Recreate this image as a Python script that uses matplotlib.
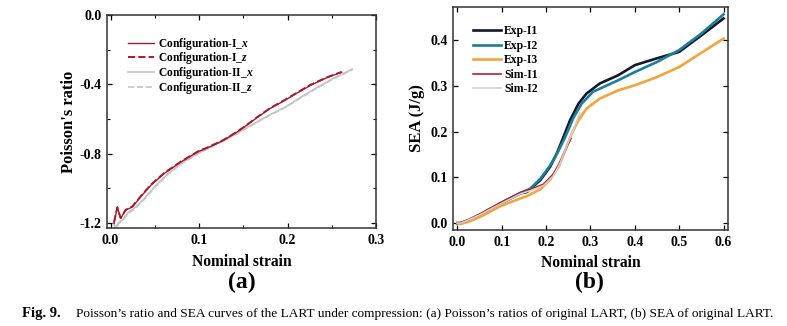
import matplotlib.pyplot as plt
from matplotlib.ticker import MultipleLocator

plt.rcParams['font.family'] = ['Liberation Serif', 'DejaVu Serif']
plt.rcParams['mathtext.fontset'] = 'custom'
plt.rcParams['mathtext.it'] = 'Liberation Serif:italic:bold'

# (a) Poisson's ratio vs nominal strain
strain_I = [0.0038, 0.0076, 0.0114, 0.017, 0.0246, 0.034, 0.0455, 0.0606, 0.0795, 0.0985,
            0.112, 0.128, 0.143, 0.155, 0.166, 0.18, 0.196, 0.21, 0.226, 0.245, 0.261]
nu_Ix = [-1.204, -1.108, -1.175, -1.127, -1.108, -1.05, -0.983, -0.915, -0.848, -0.79,
         -0.761, -0.722, -0.675, -0.632, -0.59, -0.54, -0.495, -0.452, -0.405, -0.36, -0.33]
nu_Iz = [-1.198, -1.112, -1.172, -1.125, -1.105, -1.047, -0.98, -0.912, -0.846, -0.788,
         -0.759, -0.72, -0.673, -0.63, -0.588, -0.538, -0.492, -0.45, -0.402, -0.358, -0.328]
strain_II = [0.0038, 0.0057, 0.009, 0.014, 0.02, 0.028, 0.038, 0.05, 0.064, 0.08, 0.1,
             0.12, 0.143, 0.166, 0.18, 0.196, 0.21, 0.226, 0.25, 0.273]
nu_IIx = [-1.2, -1.233, -1.2, -1.18, -1.14, -1.11, -1.06, -0.99, -0.92, -0.855, -0.795,
          -0.745, -0.682, -0.615, -0.575, -0.535, -0.49, -0.44, -0.37, -0.312]
nu_IIz = [-1.21, -1.238, -1.205, -1.185, -1.145, -1.115, -1.065, -0.995, -0.924, -0.858, -0.797,
          -0.747, -0.685, -0.618, -0.578, -0.538, -0.493, -0.443, -0.372, -0.315]

# (b) SEA vs nominal strain
strain_exp1 = [0.0, 0.007, 0.025, 0.052, 0.097, 0.142, 0.157, 0.187, 0.209, 0.224, 0.239,
               0.254, 0.273, 0.291, 0.321, 0.3625, 0.4, 0.45, 0.5, 0.55, 0.6]
sea_exp1 = [0.0, 0.0, 0.006, 0.018, 0.043, 0.065, 0.068, 0.094, 0.123, 0.152, 0.188,
            0.225, 0.261, 0.283, 0.305, 0.323, 0.345, 0.36, 0.374, 0.41, 0.447]
strain_exp2 = [0.0, 0.007, 0.025, 0.052, 0.097, 0.142, 0.164, 0.187, 0.209, 0.228, 0.243,
               0.261, 0.28, 0.306, 0.3625, 0.4, 0.45, 0.5, 0.55, 0.6]
sea_exp2 = [0.0, 0.0, 0.006, 0.018, 0.043, 0.066, 0.075, 0.097, 0.126, 0.158, 0.188,
            0.229, 0.261, 0.287, 0.312, 0.33, 0.352, 0.378, 0.414, 0.456]
strain_exp3 = [0.0, 0.007, 0.025, 0.052, 0.097, 0.142, 0.157, 0.187, 0.209, 0.228, 0.243,
               0.258, 0.273, 0.291, 0.321, 0.3625, 0.4, 0.45, 0.5, 0.55, 0.6]
sea_exp3 = [0.0, -0.002, 0.003, 0.014, 0.037, 0.054, 0.059, 0.074, 0.095, 0.123, 0.159,
            0.196, 0.225, 0.25, 0.272, 0.29, 0.301, 0.319, 0.341, 0.372, 0.403]
strain_sim1 = [0.0, 0.007, 0.025, 0.052, 0.097, 0.142, 0.165, 0.194, 0.216, 0.231, 0.245, 0.256]
sea_sim1 = [0.0, 0.001, 0.008, 0.021, 0.045, 0.067, 0.074, 0.085, 0.107, 0.133, 0.163, 0.185]
strain_sim2 = [0.0, 0.007, 0.025, 0.052, 0.097, 0.142, 0.165, 0.194, 0.216, 0.231, 0.246,
               0.261, 0.276]
sea_sim2 = [0.0, 0.0, 0.007, 0.019, 0.042, 0.064, 0.071, 0.082, 0.103, 0.13, 0.167,
            0.203, 0.24]

fig = plt.figure(figsize=(7.87, 3.26), dpi=100)
ax1 = fig.add_axes([0.136, 0.3006, 0.342, 0.653])
ax2 = fig.add_axes([0.5756, 0.2945, 0.3494, 0.684])

red = '#a8192e'
gray = '#c4c4c4'
ax1.plot(strain_II, nu_IIx, color=gray, lw=1.2, label='Configuration-II_$x$')
ax1.plot(strain_II, nu_IIz, color=gray, lw=1.2, ls='--', label='Configuration-II_$z$')
ax1.plot(strain_I, nu_Ix, color=red, lw=1.0, label='Configuration-I_$x$')
ax1.plot(strain_I, nu_Iz, color=red, lw=1.4, ls='--', label='Configuration-I_$z$')
ax1.set_xlim(-0.004, 0.3)
ax1.set_ylim(-1.23, 0.0)
ax1.xaxis.set_minor_locator(MultipleLocator(0.05))
ax1.yaxis.set_minor_locator(MultipleLocator(0.2))
ax1.set_xticks([0.0, 0.1, 0.2, 0.3])
ax1.set_xticklabels(['0.0', '0.1', '0.2', '0.3'])
ax1.set_yticks([0.0, -0.4, -0.8, -1.2])
ax1.set_yticklabels(['0.0', '-0.4', '-0.8', '-1.2'])
ax1.set_ylabel("Poisson's ratio", fontsize=12, fontweight='bold', labelpad=2)
h, l = ax1.get_legend_handles_labels()
order = [2, 3, 0, 1]
ax1.legend([h[i] for i in order], [l[i] for i in order], loc='upper left',
           bbox_to_anchor=(0.06, 0.925), frameon=False,
           prop={'weight': 'bold', 'size': 8.3}, handlelength=2.3,
           handletextpad=0.3, labelspacing=-0.12, borderaxespad=0)

ax2.plot(strain_exp1, sea_exp1, color='#15172a', lw=1.9, label='Exp-I1')
ax2.plot(strain_exp2, sea_exp2, color='#1a7f98', lw=1.9, label='Exp-I2')
ax2.plot(strain_exp3, sea_exp3, color='#f2a53a', lw=1.9, label='Exp-I3')
ax2.plot(strain_sim1, sea_sim1, color='#b02035', lw=1.2, label='Sim-I1')
ax2.plot(strain_sim2, sea_sim2, color='#cfcfcf', lw=1.2, label='Sim-I2')
ax2.set_xlim(-0.01, 0.61)
ax2.set_ylim(-0.015, 0.472)
ax2.set_xticks([0.0, 0.1, 0.2, 0.3, 0.4, 0.5, 0.6])
ax2.set_yticks([0.0, 0.1, 0.2, 0.3, 0.4])
ax2.set_ylabel('SEA (J/g)', fontsize=12, fontweight='bold', labelpad=4)
ax2.legend(loc='upper left', bbox_to_anchor=(0.055, 0.94), frameon=False,
           prop={'weight': 'bold', 'size': 8.5}, handlelength=2.4,
           handletextpad=0.25, labelspacing=0.22, borderaxespad=0)

for ax in (ax1, ax2):
    ax.tick_params(which='both', direction='in', top=True, right=True,
                   labelsize=10, pad=4)
    ax.tick_params(which='major', length=3.5, width=0.9)
    ax.tick_params(which='minor', length=2, width=0.8)
    for lab in ax.get_xticklabels() + ax.get_yticklabels():
        lab.set_fontweight('bold')
    for sp in ax.spines.values():
        sp.set_linewidth(1.1)
        sp.set_color('#333333')
    ax.set_xlabel('Nominal strain', fontsize=11.2, fontweight='bold', labelpad=5)

fig.text(0.3075, 0.115, '(a)', ha='center', fontsize=17, fontweight='bold')
fig.text(0.749, 0.115, '(b)', ha='center', fontsize=17, fontweight='bold')
fig.text(0.028, 0.028, 'Fig. 9.', fontsize=10.5, fontweight='bold')
fig.text(0.096, 0.028,
         'Poisson\u2019s ratio and SEA curves of the LART under compression: '
         '(a) Poisson\u2019s ratios of original LART, (b) SEA of original LART.',
         fontsize=9.6)

fig.savefig('out.png', dpi=100)
